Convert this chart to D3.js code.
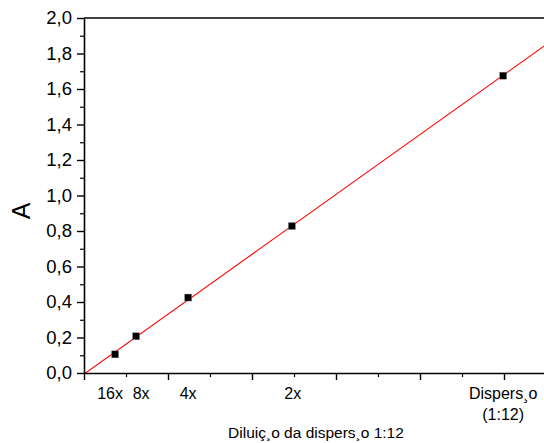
<!DOCTYPE html>
<html>
<head>
<meta charset="utf-8">
<script src="https://cdn.jsdelivr.net/npm/d3@7"></script>
<style>
  body { margin: 0; background: #fff; }
  text { font-family: Arial, "Liberation Sans", sans-serif; fill: #000; }
</style>
</head>
<body>
<script>
// relative concentration vs absorbance
var conc = [0.074, 0.124, 0.248, 0.495, 0.998];
var absorb = [0.105, 0.207, 0.425, 0.828, 1.675];

var catLabels = ["16x", "8x", "4x", "2x", "Dispers¸o"];
var catPos = [0.062, 0.136, 0.248, 0.497, 0.998];

var yTicks = [0, 0.2, 0.4, 0.6, 0.8, 1.0, 1.2, 1.4, 1.6, 1.8, 2.0];
var yMinor = [0.1, 0.3, 0.5, 0.7, 0.9, 1.1, 1.3, 1.5, 1.7, 1.9];
var xMajor = [0, 0.2, 0.4, 0.6, 0.8, 1.0];
var xMinor = [0.1, 0.3, 0.5, 0.7, 0.9];

var w = 544, h = 443;
var mLeft = 84, mTop = 18, mBottom = 373;

var x = d3.scaleLinear().domain([0, 1.1]).range([mLeft, mLeft + 462]);
var y = d3.scaleLinear().domain([0, 2]).range([mBottom, mTop]);

var svg = d3.select("body").append("svg")
  .attr("width", w).attr("height", h);

svg.append("defs").append("clipPath").attr("id", "plot")
  .append("rect").attr("x", mLeft).attr("y", mTop)
  .attr("width", w - mLeft).attr("height", mBottom - mTop);

// least squares fit line
var mx = d3.mean(conc), my = d3.mean(absorb),
    sxy = d3.sum(conc, function(d, i) { return (d - mx) * (absorb[i] - my); }),
    sxx = d3.sum(conc, function(d) { return (d - mx) * (d - mx); });
var slope = sxy / sxx, icpt = my - slope * mx;

svg.append("line")
  .attr("clip-path", "url(#plot)")
  .attr("x1", x(0)).attr("y1", y(icpt))
  .attr("x2", x(1.1)).attr("y2", y(icpt + slope * 1.1))
  .attr("stroke", "#ff0000").attr("stroke-width", 1.1);

// points
svg.selectAll("rect.pt")
  .data(conc)
  .enter()
  .append("rect")
  .attr("class", "pt")
  .attr("x", function(d) { return x(d) - 3.5; })
  .attr("y", function(d, i) { return y(absorb[i]) - 3.5; })
  .attr("width", 7).attr("height", 7)
  .attr("fill", "#000").attr("stroke", "#888").attr("stroke-width", 0.4);

// y axis
var yAxis = svg.append("g").attr("transform", "translate(" + mLeft + ",0)")
  .call(d3.axisLeft(y).tickValues(yTicks).tickSize(7).tickSizeOuter(0).tickPadding(5)
    .tickFormat(function(d) { return d3.format(".1f")(d).replace(".", ","); }));
yAxis.select(".domain").attr("stroke-width", 1.6);
yAxis.selectAll(".tick line").attr("stroke-width", 1.4);
yAxis.selectAll("text").style("font-size", "18.5px");

svg.append("g").attr("transform", "translate(" + mLeft + ",0)")
  .call(d3.axisLeft(y).tickValues(yMinor).tickSize(4).tickFormat(""))
  .call(function(g) { g.select(".domain").remove(); })
  .selectAll(".tick line").attr("stroke-width", 1.2);

// x axis
var xAxis = svg.append("g").attr("transform", "translate(0," + mBottom + ")")
  .call(d3.axisBottom(x).tickValues(xMajor).tickSize(7).tickSizeOuter(0).tickFormat(""));
xAxis.select(".domain").attr("stroke-width", 1.6);
xAxis.selectAll(".tick line").attr("stroke-width", 1.4);

svg.append("g").attr("transform", "translate(0," + mBottom + ")")
  .call(d3.axisBottom(x).tickValues(xMinor).tickSize(4).tickFormat(""))
  .call(function(g) { g.select(".domain").remove(); })
  .selectAll(".tick line").attr("stroke-width", 1.2);

// top frame line
svg.append("line")
  .attr("x1", mLeft).attr("x2", w).attr("y1", mTop).attr("y2", mTop)
  .attr("stroke", "#000").attr("stroke-width", 1.6);

// category labels
svg.selectAll("text.cat")
  .data(catLabels)
  .enter()
  .append("text")
  .attr("class", "cat")
  .attr("x", function(d, i) { return x(catPos[i]); })
  .attr("y", 399)
  .attr("text-anchor", "middle")
  .style("font-size", "16px")
  .text(function(d) { return d; });

svg.append("text")
  .attr("x", x(catPos[4])).attr("y", 420)
  .attr("text-anchor", "middle")
  .style("font-size", "16px")
  .text("(1:12)");

// axis titles
svg.append("text")
  .attr("x", 316).attr("y", 438)
  .attr("text-anchor", "middle")
  .style("font-size", "15.5px")
  .text("Diluiç¸o da dispers¸o 1:12");

svg.append("text")
  .attr("transform", "translate(30,211) rotate(-90)")
  .attr("text-anchor", "middle")
  .style("font-size", "25px")
  .text("A");
</script>
</body>
</html>
